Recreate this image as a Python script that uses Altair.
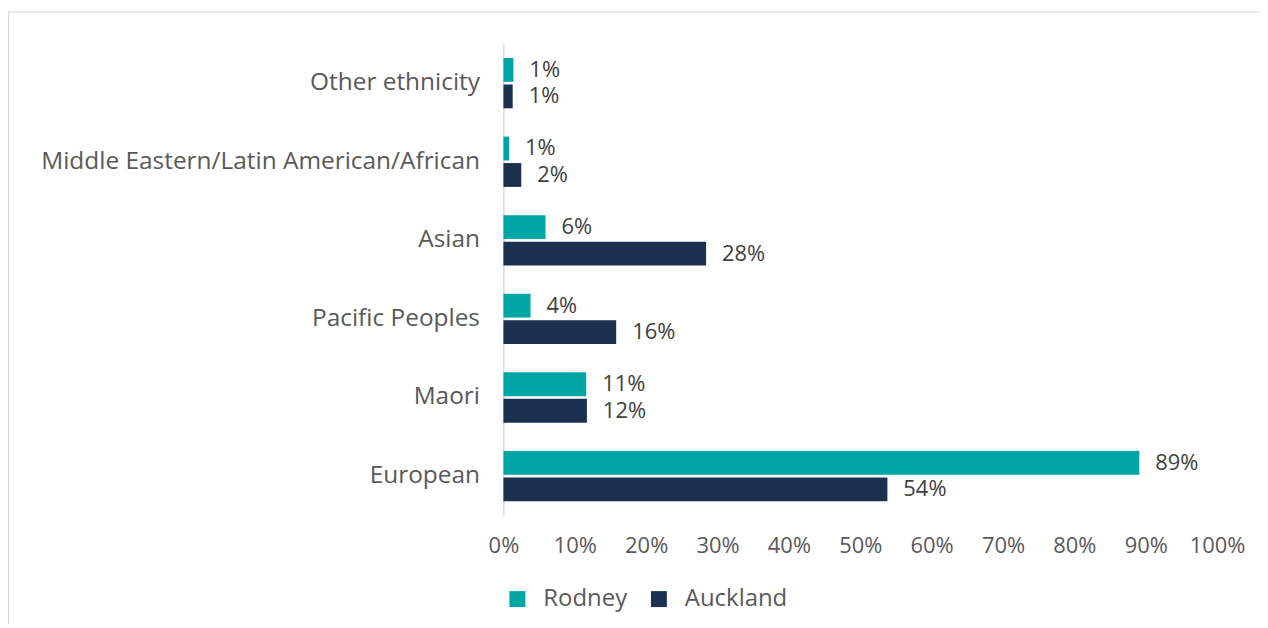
import altair as alt
import pandas as pd

categories = ["Other ethnicity", "Middle Eastern/Latin American/African", "Asian",
              "Pacific Peoples", "Maori", "European"]
series = ["Rodney", "Auckland"]
rodney = [0.014, 0.008, 0.059, 0.038, 0.116, 0.891]
auckland = [0.013, 0.025, 0.284, 0.158, 0.117, 0.538]
rodney_labels = ["1%", "1%", "6%", "4%", "11%", "89%"]
auckland_labels = ["1%", "2%", "28%", "16%", "12%", "54%"]
colors = ["#00A6A6", "#1C3150"]

rows = []
for i, c in enumerate(categories):
    rows.append({"cat": c, "series": "Rodney", "value": rodney[i], "label": rodney_labels[i]})
    rows.append({"cat": c, "series": "Auckland", "value": auckland[i], "label": auckland_labels[i]})
df = pd.DataFrame(rows)

FONT = "Open Sans"

y_enc = alt.Y("cat:N", sort=categories, title=None,
              scale=alt.Scale(paddingInner=0.36, paddingOuter=0.18),
              axis=alt.Axis(labelFontSize=24.5, labelColor="#595959", labelFont=FONT,
                            ticks=False, labelPadding=24, domainColor="#d9d9d9",
                            domainWidth=1.5, labelLimit=600,
                            minExtent=497, maxExtent=497))
yoff = alt.YOffset("series:N", sort=series, scale=alt.Scale(paddingInner=0.1))
x_enc = alt.X("value:Q", title=None,
              scale=alt.Scale(domain=[0, 1], nice=False),
              axis=alt.Axis(format=".0%", values=[i / 10 for i in range(11)],
                            labelFontSize=22, labelColor="#595959", labelFont=FONT,
                            labelFlush=False, labelOverlap=False,
                            ticks=False, domain=False, grid=False, labelPadding=20))

base = alt.Chart(df)
bars = base.mark_bar().encode(
    y=y_enc, yOffset=yoff, x=x_enc,
    color=alt.Color("series:N", sort=series, title=None,
                    scale=alt.Scale(domain=series, range=colors),
                    legend=alt.Legend(orient="none", legendX=2, legendY=545,
                                      direction="horizontal", symbolType="square",
                                      symbolSize=256, symbolStrokeWidth=0,
                                      labelFontSize=24, labelColor="#595959",
                                      labelFont=FONT, labelOffset=14,
                                      columnPadding=19)),
)
texts = base.mark_text(align="left", baseline="middle", dx=16, fontSize=22,
                       color="#404040", font=FONT).encode(
    y=alt.Y("cat:N", sort=categories), yOffset=yoff, x="value:Q", text="label:N")

border_top = alt.Chart(pd.DataFrame({"a": [0]})).mark_rule(color="#d9d9d9", strokeWidth=1).encode(
    x=alt.value(-497), x2=alt.value(760), y=alt.value(-32))
border_left = alt.Chart(pd.DataFrame({"a": [0]})).mark_rule(color="#d9d9d9", strokeWidth=1).encode(
    x=alt.value(-496.5), y=alt.value(-32), y2=alt.value(600))

chart = alt.layer(border_top, border_left, bars, texts).properties(
    width=716, height=473,
    autosize=alt.AutoSizeParams(type="none"),
    padding={"left": 497, "top": 35, "right": 43, "bottom": 108},
).configure_view(stroke=None)

chart.save("out.html", embed_options={"renderer": "svg", "actions": False})
